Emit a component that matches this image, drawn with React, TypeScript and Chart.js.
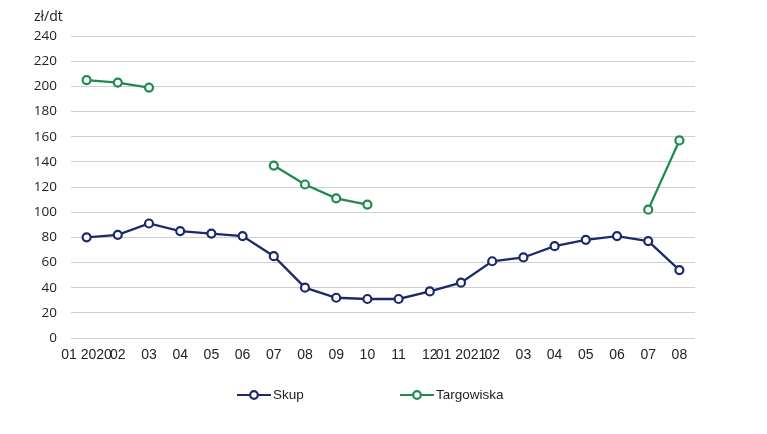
import React, { useEffect, useRef } from "react";
import { Chart, registerables } from "chart.js";

Chart.register(...registerables);

const categories = ["01 2020", "02", "03", "04", "05", "06", "07", "08", "09", "10", "11", "12", "01 2021", "02", "03", "04", "05", "06", "07", "08"];
const skup = [80, 82, 91, 85, 83, 81, 65, 40, 32, 31, 31, 37, 44, 61, 64, 73, 78, 81, 77, 54];
const targowiska = [205, 203, 199, null, null, null, 137, 122, 111, 106, null, null, null, null, null, null, null, null, 102, 157];
const yTicks = [0, 20, 40, 60, 80, 100, 120, 140, 160, 180, 200, 220, 240];
const unitLabel = "zł/dt";
const seriesNames = ["Skup", "Targowiska"];
const colors = ["#1b2a6b", "#1f8c4e"];

const W = 767;
const H = 434;

const overlayPlugin = {
  id: "overlay",
  afterDraw(chart: any) {
    const ctx = chart.ctx;
    ctx.save();
    ctx.fillStyle = "#222";
    ctx.font = '14px "Open Sans"';
    ctx.textAlign = "left";
    ctx.textBaseline = "middle";
    ctx.fillText(unitLabel, 34, 17);

    const legendY = 395;
    const items = [
      { x: 237, name: seriesNames[0], color: colors[0] },
      { x: 400, name: seriesNames[1], color: colors[1] },
    ];
    ctx.font = '13.5px "Liberation Sans"';
    items.forEach((it) => {
      ctx.strokeStyle = it.color;
      ctx.lineWidth = 2.2;
      ctx.beginPath();
      ctx.moveTo(it.x, legendY);
      ctx.lineTo(it.x + 34, legendY);
      ctx.stroke();
      ctx.beginPath();
      ctx.arc(it.x + 17, legendY, 3.8, 0, Math.PI * 2);
      ctx.fillStyle = "#fff";
      ctx.fill();
      ctx.stroke();
      ctx.fillStyle = "#222";
      ctx.fillText(it.name, it.x + 36, legendY);
    });
    ctx.restore();
  },
};

export default function App() {
  const ref = useRef<HTMLCanvasElement | null>(null);
  useEffect(() => {
    if (!ref.current) return;
    const mkDs = (label: string, data: any[], color: string) => ({
      label,
      data,
      borderColor: color,
      backgroundColor: "#ffffff",
      borderWidth: 2.3,
      pointRadius: 4,
      pointBorderWidth: 2.2,
      pointBackgroundColor: "#ffffff",
      pointBorderColor: color,
      spanGaps: false,
      tension: 0,
    });
    const chart = new Chart(ref.current, {
      type: "line",
      data: {
        labels: categories,
        datasets: [mkDs(seriesNames[0], skup, colors[0]), mkDs(seriesNames[1], targowiska, colors[1])],
      },
      plugins: [overlayPlugin],
      options: {
        responsive: false,
        animation: false,
        layout: { padding: { top: 36, right: 72, left: 0, bottom: 0 } },
        plugins: { legend: { display: false }, tooltip: { enabled: false } },
        scales: {
          x: {
            offset: true,
            grid: { display: false, drawTicks: false },
            border: { display: false },
            ticks: {
              autoSkip: false,
              maxRotation: 0,
              minRotation: 0,
              padding: 9,
              color: "#222",
              font: { family: "Liberation Sans", size: 14 },
            },
            afterFit(scale: any) {
              scale.height = 96;
            },
          },
          y: {
            min: 0,
            max: 240,
            afterBuildTicks(scale: any) {
              scale.ticks = yTicks.map((v) => ({ value: v }));
            },
            grid: { color: "#cfcfcf", lineWidth: 1, drawTicks: false },
            border: { display: false },
            ticks: {
              padding: 14,
              color: "#222",
              font: { family: "Open Sans", size: 13.5 },
            },
            afterFit(scale: any) {
              scale.width = 71;
            },
          },
        },
      },
    });
    return () => chart.destroy();
  }, []);
  return (
    <div style={{ position: "fixed", left: 0, top: 0, width: W, height: H, background: "#fff" }}>
      <canvas ref={ref} width={W} height={H} style={{ width: W, height: H, display: "block" }} />
    </div>
  );
}
